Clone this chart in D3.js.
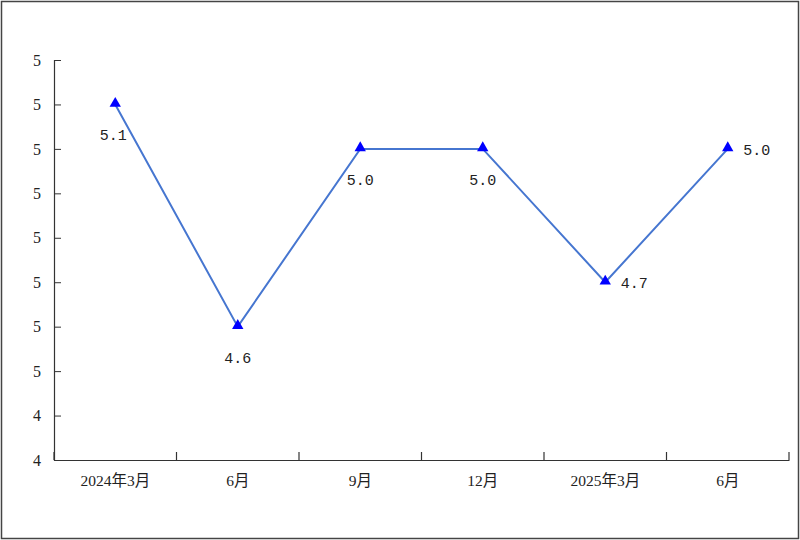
<!DOCTYPE html>
<html>
<head>
<meta charset="utf-8">
<script src="https://cdn.jsdelivr.net/npm/d3@7"></script>
<style>
  body { margin: 0; background: #fff; }
  svg { display: block; }
</style>
</head>
<body>
<div id="chart"></div>
<script>
const categories = ["2024年3月", "6月", "9月", "12月", "2025年3月", "6月 "];
const values = [5.1, 4.6, 5.0, 5.0, 4.7, 5.0];
const labelPos = ["below-left", "below", "below", "below", "right", "right"];
const yTicks = [4.3, 4.4, 4.5, 4.6, 4.7, 4.8, 4.9, 5.0, 5.1, 5.2];

const width = 800, height = 540;
const svg = d3.select("#chart").append("svg")
  .attr("width", width).attr("height", height);

svg.append("rect")
  .attr("x", 1.5).attr("y", 1.5).attr("width", width - 3).attr("height", height - 3)
  .attr("fill", "#fff").attr("stroke", "#444").attr("stroke-width", 1.5);

const x = d3.scaleBand().domain(categories).range([54, 789]).padding(0);
const y = d3.scaleLinear().domain([4.3, 5.2]).range([460, 60]);

const serif = "'Liberation Serif', 'Noto Sans CJK SC', serif";

// y axis
const yAxis = svg.append("g").attr("transform", "translate(54,0)")
  .call(d3.axisRight(y).tickValues(yTicks).tickSize(7).tickFormat(d => Math.round(d)));
yAxis.select(".domain").attr("stroke", "#333").attr("stroke-width", 1.2);
yAxis.selectAll(".tick line").attr("stroke", "#333");
yAxis.selectAll(".tick text")
  .attr("x", -17).attr("text-anchor", "middle")
  .style("font-family", serif).style("font-size", "16px").attr("fill", "#222");

// x axis
const xAxis = svg.append("g").attr("transform", "translate(0,460)")
  .call(d3.axisBottom(x).tickSize(0).tickPadding(15));
xAxis.select(".domain").attr("stroke", "#333").attr("stroke-width", 1.2);
xAxis.selectAll(".tick text")
  .style("font-family", serif)
  .style("font-size", "15.5px").attr("fill", "#222");
const bounds = categories.map(c => x(c)).concat([x(categories[categories.length - 1]) + x.bandwidth()]);
svg.append("g").selectAll("line").data(bounds).join("line")
  .attr("x1", d => d).attr("x2", d => d)
  .attr("y1", 460).attr("y2", 452)
  .attr("stroke", "#333").attr("stroke-width", 1.2);

const cx = (d, i) => x(categories[i]) + x.bandwidth() / 2;

// line
svg.append("path")
  .datum(values)
  .attr("fill", "none").attr("stroke", "#4676d0").attr("stroke-width", 2)
  .attr("d", d3.line().x(cx).y(d => y(d)));

// markers
svg.append("g").selectAll("path").data(values).join("path")
  .attr("d", d3.symbol(d3.symbolTriangle, 56))
  .attr("transform", (d, i) => `translate(${cx(d, i)},${y(d) - 1})`)
  .attr("fill", "#0000ff");

// labels
svg.append("g").selectAll("text").data(values).join("text")
  .attr("x", (d, i) => {
    const p = labelPos[i];
    if (p === "below-left") return cx(d, i) - 2;
    if (p === "right") return cx(d, i) + 29;
    return cx(d, i);
  })
  .attr("y", (d, i) => labelPos[i] === "right" ? y(d) + 6 : y(d) + 36)
  .attr("text-anchor", "middle")
  .style("font-family", "'Liberation Mono', 'DejaVu Sans Mono', monospace")
  .style("font-size", "15px").attr("fill", "#222")
  .text(d => d.toFixed(1));
</script>
</body>
</html>
